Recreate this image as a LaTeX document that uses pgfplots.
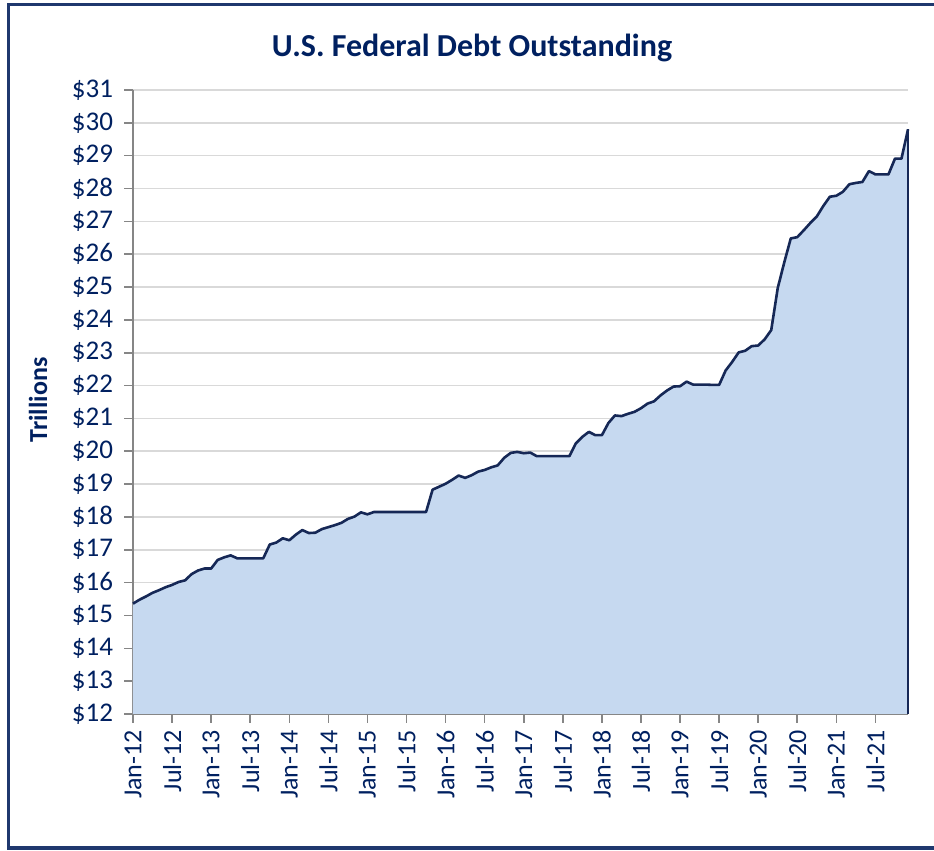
\documentclass[border=0pt]{standalone}
\usepackage{pgfplots}
\pgfplotsset{compat=1.18}
\usepackage{pgfplotstable}
\usepackage{fontspec}
\setmainfont{Carlito}
\definecolor{navy}{RGB}{0,32,96}
\definecolor{linec}{RGB}{22,40,86}
\definecolor{areac}{RGB}{198,217,240}
\definecolor{gridc}{RGB}{217,217,217}
\definecolor{axisc}{RGB}{134,134,134}
\definecolor{framec}{RGB}{31,56,110}

\pgfplotstableread{
m v
0 15.36
1 15.48
2 15.58
3 15.69
4 15.77
5 15.86
6 15.93
7 16.02
8 16.07
9 16.26
10 16.37
11 16.43
12 16.43
13 16.69
14 16.77
15 16.83
16 16.74
17 16.74
18 16.74
19 16.74
20 16.74
21 17.16
22 17.22
23 17.35
24 17.29
25 17.46
26 17.60
27 17.51
28 17.52
29 17.63
30 17.69
31 17.75
32 17.82
33 17.94
34 18.01
35 18.14
36 18.08
37 18.15
38 18.15
39 18.15
40 18.15
41 18.15
42 18.15
43 18.15
44 18.15
45 18.15
46 18.83
47 18.92
48 19.01
49 19.13
50 19.26
51 19.19
52 19.27
53 19.38
54 19.43
55 19.51
56 19.57
57 19.80
58 19.95
59 19.98
60 19.94
61 19.96
62 19.85
63 19.85
64 19.85
65 19.85
66 19.85
67 19.85
68 20.24
69 20.44
70 20.59
71 20.49
72 20.49
73 20.86
74 21.09
75 21.07
76 21.14
77 21.20
78 21.31
79 21.45
80 21.52
81 21.70
82 21.85
83 21.97
84 21.98
85 22.12
86 22.03
87 22.03
88 22.03
89 22.02
90 22.02
91 22.46
92 22.72
93 23.01
94 23.06
95 23.20
96 23.22
97 23.41
98 23.69
99 24.97
100 25.75
101 26.48
102 26.52
103 26.73
104 26.95
105 27.15
106 27.47
107 27.75
108 27.78
109 27.90
110 28.13
111 28.17
112 28.20
113 28.53
114 28.43
115 28.43
116 28.43
117 28.91
118 28.91
119 29.80
}\debt

\begin{document}
\begin{tikzpicture}[x=1pt,y=1pt]
\useasboundingbox (0,0) rectangle (467,425.5);
\draw[framec, line width=1.6pt] (470,423.2) -- (4.3,423.2) -- (4.3,1.5) -- (470,1.5);
\node[navy, font=\fontsize{16}{19}\selectfont\bfseries] at (236,401.5) {U.S. Federal Debt Outstanding};
\node[navy, rotate=90, font=\fontsize{13}{15}\selectfont\bfseries] at (19,225.5) {Trillions};
\begin{axis}[
  at={(66.5pt,68.5pt)}, anchor=south west,
  scale only axis, width=387.5pt, height=312pt,
  xmin=0, xmax=119, ymin=12, ymax=31,
  axis lines=left,
  axis line style={axisc, line width=0.8pt, -},
  ymajorgrids, grid style={gridc, line width=0.8pt},
  tick align=outside, major tick length=4.5pt,
  tick style={axisc, line width=0.8pt},
  ytick={12,13,...,31},
  yticklabel={\$\pgfmathprintnumber{\tick}},
  /pgf/number format/assume math mode=true,
  xtick={0,6,...,114},
  xticklabels={Jan-12,Jul-12,Jan-13,Jul-13,Jan-14,Jul-14,Jan-15,Jul-15,Jan-16,Jul-16,Jan-17,Jul-17,Jan-18,Jul-18,Jan-19,Jul-19,Jan-20,Jul-20,Jan-21,Jul-21},
  xticklabel style={rotate=90, anchor=east, navy, font=\fontsize{13}{15}\selectfont},
  yticklabel style={navy, font=\fontsize{13.5}{15}\selectfont, xshift=-2pt},
  clip=false,
]
\addplot[draw=none, fill=areac] table[x=m, y=v] {\debt} \closedcycle;
\addplot[linec, line width=1.3pt, line join=round] table[x=m, y=v] {\debt};
\addplot[linec, line width=1.3pt] coordinates {(119,29.80) (119,12)};
\end{axis}
\end{tikzpicture}
\end{document}
